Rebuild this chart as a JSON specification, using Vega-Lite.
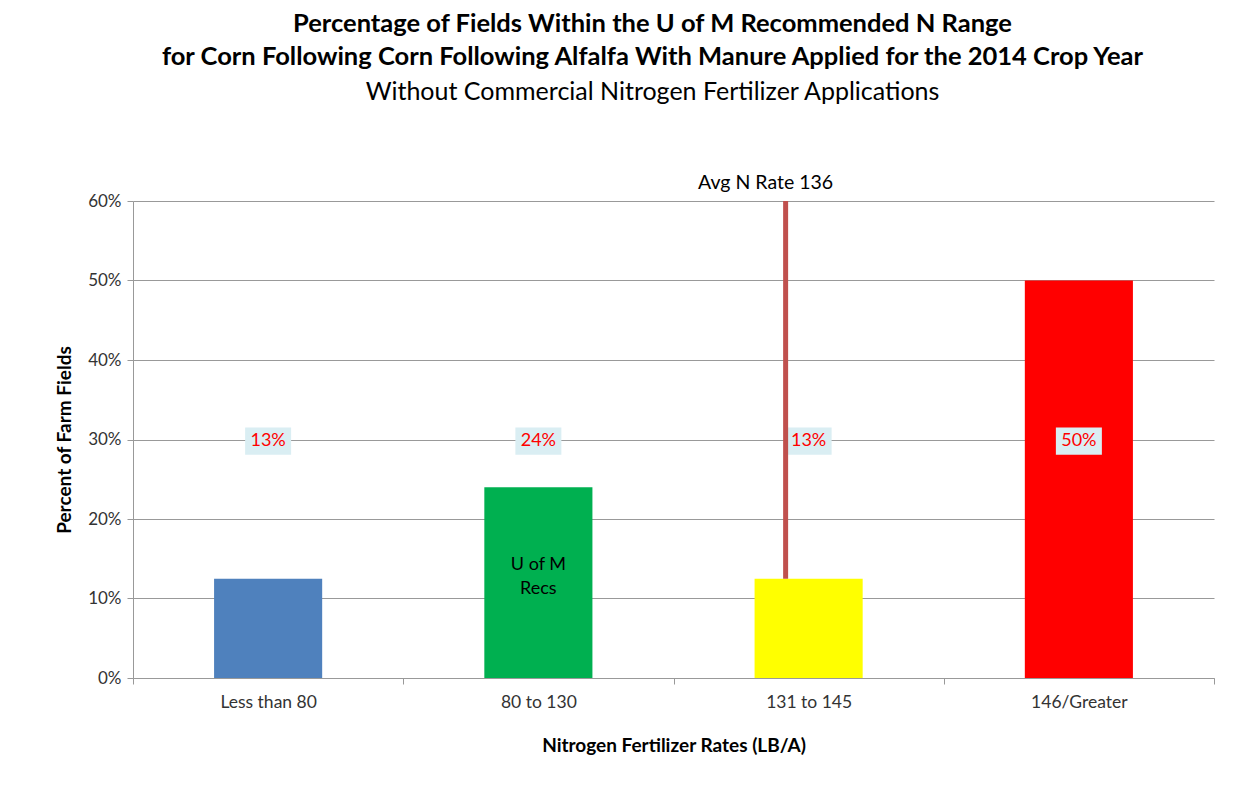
{
  "$schema": "https://vega.github.io/schema/vega-lite/v6.json",
  "width": 1081,
  "height": 477,
  "autosize": {"type": "none"},
  "padding": {"left": 133, "top": 201, "right": 45, "bottom": 121},
  "background": "white",
  "title": {
    "text": ["Percentage of Fields Within the U of M Recommended N Range", "for Corn Following Corn Following Alfalfa With Manure Applied for the 2014 Crop Year"],
    "subtitle": "Without Commercial Nitrogen Fertilizer Applications",
    "font": "Lato",
    "fontSize": 25.5,
    "fontWeight": "bold",
    "lineHeight": 33,
    "color": "#000000",
    "subtitleFont": "Lato",
    "subtitleFontSize": 25,
    "subtitleColor": "#000000",
    "subtitlePadding": 10,
    "anchor": "middle",
    "dx": -21,
    "offset": 68
  },
  "data": {
    "values": [
      {"category": "Less than 80", "pct": 0.125, "label": "13%"},
      {"category": "80 to 130", "pct": 0.24, "label": "24%"},
      {"category": "131 to 145", "pct": 0.125, "label": "13%"},
      {"category": "146/Greater", "pct": 0.5, "label": "50%"}
    ]
  },
  "encoding": {
    "x": {
      "field": "category",
      "type": "nominal",
      "sort": null,
      "scale": {"paddingInner": 0, "paddingOuter": 0},
      "axis": {
        "title": "Nitrogen Fertilizer Rates (LB/A)",
        "titleFont": "Lato",
        "titleFontSize": 19,
        "titleFontWeight": "bold",
        "titleColor": "#000000",
        "titlePadding": 26,
        "labelFont": "Lato",
        "labelFontSize": 17.5,
        "labelColor": "#333333",
        "labelAngle": 0,
        "labelPadding": 9,
        "tickBand": "extent",
        "tickSize": 6,
        "tickColor": "#999999",
        "domainColor": "#999999"
      }
    }
  },
  "layer": [
    {
      "mark": {"type": "bar", "width": {"band": 0.4}},
      "encoding": {
        "y": {
          "field": "pct",
          "type": "quantitative",
          "scale": {"domain": [0, 0.6]},
          "axis": {
            "format": ".0%",
            "values": [0, 0.1, 0.2, 0.3, 0.4, 0.5, 0.6],
            "title": "Percent of Farm Fields",
            "titleFont": "Lato",
            "titleFontSize": 19,
            "titleFontWeight": "bold",
            "titleColor": "#000000",
            "titlePadding": 13,
            "labelFont": "Lato",
            "labelFontSize": 17,
            "labelColor": "#333333",
            "labelPadding": 6,
            "tickSize": 6,
            "tickColor": "#999999",
            "domainColor": "#999999",
            "gridColor": "#999999",
            "gridOpacity": 1
          }
        },
        "color": {
          "field": "category",
          "type": "nominal",
          "sort": null,
          "scale": {"domain": ["Less than 80", "80 to 130", "131 to 145", "146/Greater"], "range": ["#4F81BD", "#00B050", "#FFFF00", "#FF0000"]},
          "legend": null
        }
      }
    },
    {
      "mark": {"type": "point", "shape": "M-1,-0.59L1,-0.59L1,0.59L-1,0.59Z", "size": 2116, "filled": true, "color": "#DAEEF3", "opacity": 1},
      "encoding": {
        "y": {"datum": 0.298, "type": "quantitative"}
      }
    },
    {
      "mark": {"type": "text", "font": "Lato", "fontSize": 18, "color": "#FF0000", "baseline": "middle", "align": "center"},
      "encoding": {
        "y": {"datum": 0.298, "type": "quantitative"},
        "text": {"field": "label"}
      }
    },
    {
      "data": {"values": [{"category": "131 to 145", "note": "Avg N Rate 136", "top": 0.6, "bottom": 0.125}]},
      "mark": {"type": "rule", "color": "#C0504D", "strokeWidth": 5, "xOffset": -23},
      "encoding": {
        "y": {"field": "top", "type": "quantitative"},
        "y2": {"field": "bottom"}
      }
    },
    {
      "data": {"values": [{"category": "131 to 145", "note": "Avg N Rate 136", "top": 0.6}]},
      "mark": {"type": "text", "font": "Lato", "fontSize": 19.5, "color": "#000000", "baseline": "middle", "align": "center", "xOffset": -43, "yOffset": -18},
      "encoding": {
        "y": {"field": "top", "type": "quantitative"},
        "text": {"field": "note"}
      }
    },
    {
      "data": {"values": [{"category": "80 to 130", "note": ["U of M", "Recs"], "pos": 0.142}]},
      "mark": {"type": "text", "font": "Lato", "fontSize": 18, "color": "#000000", "baseline": "middle", "align": "center", "lineHeight": 24},
      "encoding": {
        "y": {"field": "pos", "type": "quantitative"},
        "text": {"field": "note"}
      }
    }
  ],
  "config": {
    "view": {"stroke": null}
  }
}
